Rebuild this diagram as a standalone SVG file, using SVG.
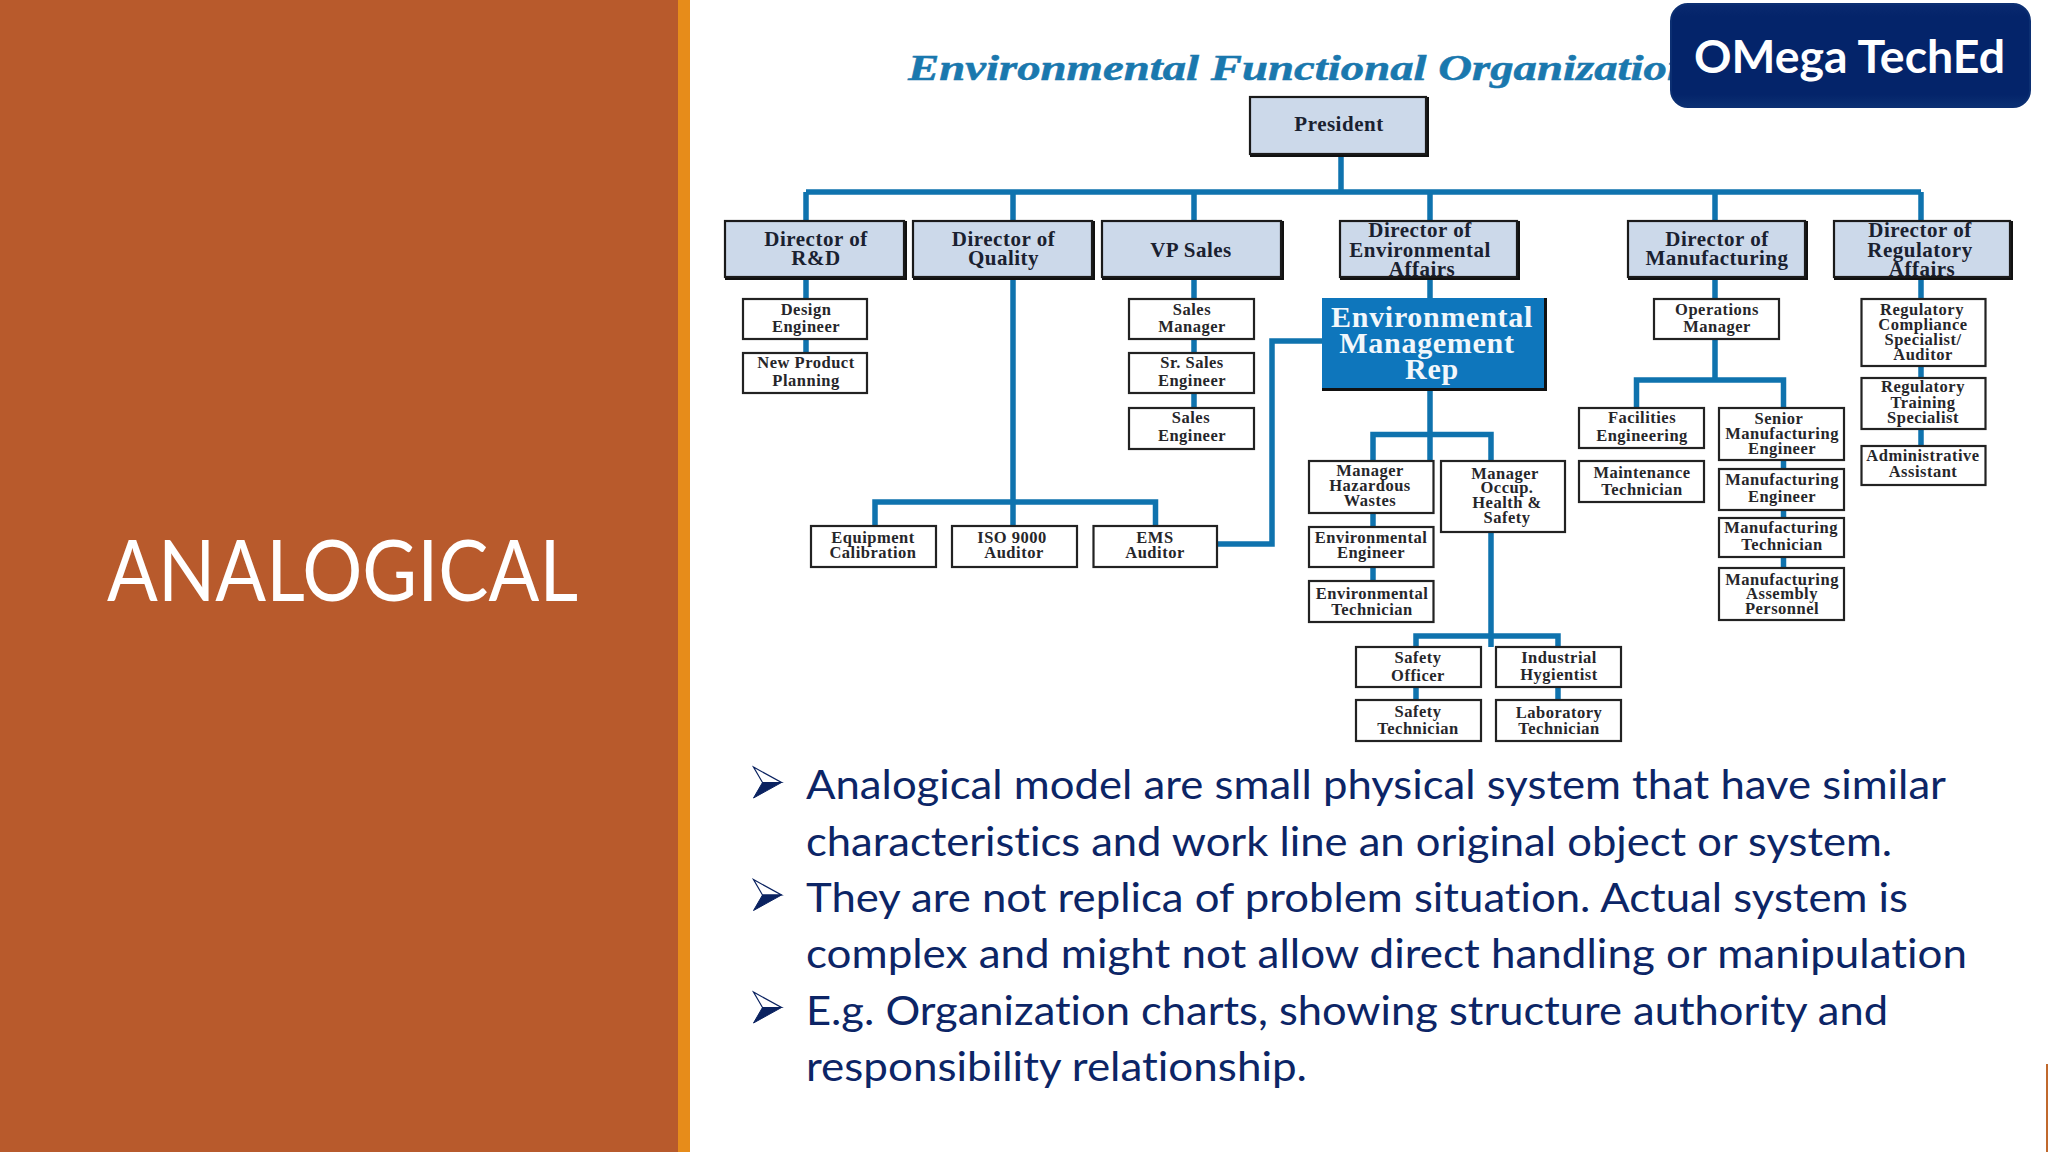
<svg xmlns="http://www.w3.org/2000/svg" width="2048" height="1152" viewBox="0 0 2048 1152">
<defs>
<linearGradient id="badgeFill" x1="0" y1="0" x2="0" y2="1"><stop offset="0" stop-color="#0a2a70"/><stop offset="0.12" stop-color="#04246a"/><stop offset="0.88" stop-color="#04246a"/><stop offset="1" stop-color="#0b3073"/></linearGradient>
<g id="bullet"><path d="M0 0L28 15.5L9 15.5Z" fill="#fff" stroke="#0a2260" stroke-width="1.2"/><path d="M0 31L28 15.5L9 15.5Z" fill="#0a2260" stroke="#0a2260" stroke-width="1"/></g>
</defs>
<style>
.box{fill:#fff;stroke:#222;stroke-width:2.2}
.dir{fill:#ccd9ea;stroke:#1a1a1a;stroke-width:2.2}
.shadow{fill:#111}
.t{font-family:"Liberation Serif",serif;font-weight:bold;font-size:16.500px;letter-spacing:0.500px;fill:#26262a;text-anchor:middle}
.d{font-family:"Liberation Serif",serif;font-weight:bold;font-size:21px;letter-spacing:0.500px;fill:#1a2130;text-anchor:middle}
.e{font-family:"Liberation Serif",serif;font-weight:bold;font-size:30px;letter-spacing:0.700px;fill:#f2f7fb;text-anchor:middle}
.b{font-family:Lato,"Open Sans",sans-serif;font-size:41px;fill:#0c2566;font-variant-ligatures:none}
.c path{fill:none;stroke:#0f73ae;stroke-width:5.500}
</style>
<rect x="0" y="0" width="2048" height="1152" fill="#fff"/>
<rect x="0" y="0" width="680" height="1152" fill="#b85a2c"/>
<rect x="678" y="0" width="12" height="1152" fill="#e78c1a"/>
<rect x="2046" y="1064" width="2" height="88" fill="#c0682c"/>
<text id="slide-title" x="107" y="601" font-family="Lato,'Open Sans',sans-serif" font-size="85" fill="#fff" textLength="471" lengthAdjust="spacingAndGlyphs">ANALOGICAL</text>
<text id="chart-title" x="908" y="80" font-family="'Liberation Serif',serif" font-weight="bold" font-style="italic" font-size="35" fill="#1a78ae" stroke="#1a78ae" stroke-width="0.500" textLength="785" lengthAdjust="spacingAndGlyphs">Environmental Functional Organization</text>

<g id="connectors" class="c">
<path d="M1341 155V192M806 192H1921M806 192V221M1013 192V221M1194 192V221M1430 192V221M1715 192V221M1921 192V221"/>
<path d="M806 278V299M806 339V353"/>
<path d="M1013 278V526M875 526V502H1155.500V526"/>
<path d="M1194 278V299M1194 339V353M1194 393V408"/>
<path d="M1430 278V298M1430 389V461M1373 461V434.500H1491V461"/>
<path d="M1217 544H1272V341H1322"/>
<path d="M1373 513V581"/>
<path d="M1491 532V647M1416 647V636H1558V647"/>
<path d="M1416 687V700M1558 687V700"/>
<path d="M1715 278V299M1715 339V380M1636.500 408V380H1783.500V408"/>
<path d="M1783.500 460V568"/>
<path d="M1921 278V299M1921 366V378M1921 429V446"/>
</g>

<g id="president"><rect class="shadow" x="1250" y="97" width="179" height="60"/><rect class="dir" x="1250" y="97" width="176" height="57"/><text class="d" x="1339" y="131">President</text></g>
<g id="dir-rd"><rect class="shadow" x="725" y="221" width="182" height="59"/><rect class="dir" x="725" y="221" width="179" height="56"/><text class="d" x="816" y="246">Director of</text><text class="d" x="816" y="265">R&amp;D</text></g>
<g id="dir-quality"><rect class="shadow" x="913" y="221" width="182" height="59"/><rect class="dir" x="913" y="221" width="179" height="56"/><text class="d" x="1003.500" y="246">Director of</text><text class="d" x="1003.500" y="265">Quality</text></g>
<g id="vp-sales"><rect class="shadow" x="1102" y="221" width="182" height="59"/><rect class="dir" x="1102" y="221" width="179" height="56"/><text class="d" x="1191" y="257">VP Sales</text></g>
<g id="dir-env"><rect class="shadow" x="1340" y="221" width="180" height="59"/><rect class="dir" x="1340" y="221" width="177" height="56"/><text class="d" x="1420" y="237">Director of</text><text class="d" x="1420" y="257">Environmental</text><text class="d" x="1422" y="276">Affairs</text></g>
<g id="dir-mfg"><rect class="shadow" x="1628" y="221" width="180" height="59"/><rect class="dir" x="1628" y="221" width="177" height="56"/><text class="d" x="1717" y="246">Director of</text><text class="d" x="1717" y="265">Manufacturing</text></g>
<g id="dir-reg"><rect class="shadow" x="1834" y="221" width="179" height="59"/><rect class="dir" x="1834" y="221" width="176" height="56"/><text class="d" x="1920" y="237">Director of</text><text class="d" x="1920" y="257">Regulatory</text><text class="d" x="1922" y="276">Affairs</text></g>

<g id="emr"><rect class="shadow" x="1322" y="298" width="225" height="93"/><rect x="1322" y="298" width="222" height="90" fill="#0e76bc"/><text class="e" x="1432" y="327">Environmental</text><text class="e" x="1427" y="353">Management</text><text class="e" x="1432" y="379">Rep</text></g>

<g id="design-engineer"><rect class="box" x="743" y="299" width="124" height="40"/><text class="t" x="806" y="315">Design</text><text class="t" x="806" y="332">Engineer</text></g>
<g id="new-product"><rect class="box" x="743" y="353" width="124" height="40"/><text class="t" x="806" y="368">New Product</text><text class="t" x="806" y="386">Planning</text></g>
<g id="sales-manager"><rect class="box" x="1129" y="299" width="125" height="40"/><text class="t" x="1192" y="315">Sales</text><text class="t" x="1192" y="332">Manager</text></g>
<g id="sr-sales"><rect class="box" x="1129" y="353" width="125" height="40"/><text class="t" x="1192" y="368">Sr. Sales</text><text class="t" x="1192" y="386">Engineer</text></g>
<g id="sales-engineer"><rect class="box" x="1129" y="408" width="125" height="41"/><text class="t" x="1191" y="423">Sales</text><text class="t" x="1192" y="441">Engineer</text></g>
<g id="equipment"><rect class="box" x="811" y="526" width="125" height="41"/><text class="t" x="873" y="543">Equipment</text><text class="t" x="873" y="558">Calibration</text></g>
<g id="iso"><rect class="box" x="952" y="526" width="125" height="41"/><text class="t" x="1012" y="543">ISO 9000</text><text class="t" x="1014" y="558">Auditor</text></g>
<g id="ems"><rect class="box" x="1093.500" y="526" width="123.500" height="41"/><text class="t" x="1155" y="543">EMS</text><text class="t" x="1155" y="558">Auditor</text></g>
<g id="mgr-haz"><rect class="box" x="1309" y="461" width="124.500" height="52"/><text class="t" x="1370" y="476">Manager</text><text class="t" x="1370" y="491">Hazardous</text><text class="t" x="1370" y="506">Wastes</text></g>
<g id="env-eng"><rect class="box" x="1309" y="527" width="124.500" height="40"/><text class="t" x="1371" y="543">Environmental</text><text class="t" x="1371" y="558">Engineer</text></g>
<g id="env-tech"><rect class="box" x="1309" y="581" width="124.500" height="41"/><text class="t" x="1372" y="599">Environmental</text><text class="t" x="1372" y="615">Technician</text></g>
<g id="mgr-occ"><rect class="box" x="1441" y="461" width="124" height="71"/><text class="t" x="1505" y="479">Manager</text><text class="t" x="1507" y="493">Occup.</text><text class="t" x="1507" y="508">Health &amp;</text><text class="t" x="1507" y="523">Safety</text></g>
<g id="safety-officer"><rect class="box" x="1356" y="647" width="125" height="40"/><text class="t" x="1418" y="663">Safety</text><text class="t" x="1418" y="681">Officer</text></g>
<g id="safety-tech"><rect class="box" x="1356" y="700" width="125" height="41"/><text class="t" x="1418" y="717">Safety</text><text class="t" x="1418" y="734">Technician</text></g>
<g id="industrial"><rect class="box" x="1496" y="647" width="125" height="40"/><text class="t" x="1559" y="663">Industrial</text><text class="t" x="1559" y="680">Hygientist</text></g>
<g id="laboratory"><rect class="box" x="1496" y="700" width="125" height="41"/><text class="t" x="1559" y="718">Laboratory</text><text class="t" x="1559" y="734">Technician</text></g>
<g id="operations"><rect class="box" x="1654" y="299" width="125" height="40"/><text class="t" x="1717" y="315">Operations</text><text class="t" x="1717" y="332">Manager</text></g>
<g id="facilities"><rect class="box" x="1579" y="408" width="125" height="40"/><text class="t" x="1642" y="423">Facilities</text><text class="t" x="1642" y="441">Engineering</text></g>
<g id="maintenance"><rect class="box" x="1579" y="461" width="125" height="41"/><text class="t" x="1642" y="478">Maintenance</text><text class="t" x="1642" y="495">Technician</text></g>
<g id="senior-mfg"><rect class="box" x="1719" y="408" width="125" height="52"/><text class="t" x="1779" y="424">Senior</text><text class="t" x="1782" y="439">Manufacturing</text><text class="t" x="1782" y="454">Engineer</text></g>
<g id="mfg-eng"><rect class="box" x="1719" y="469" width="125" height="41"/><text class="t" x="1782" y="485">Manufacturing</text><text class="t" x="1782" y="502">Engineer</text></g>
<g id="mfg-tech"><rect class="box" x="1719" y="518" width="125" height="39"/><text class="t" x="1781" y="533">Manufacturing</text><text class="t" x="1782" y="550">Technician</text></g>
<g id="mfg-assembly"><rect class="box" x="1719" y="568" width="125" height="52"/><text class="t" x="1782" y="585">Manufacturing</text><text class="t" x="1782" y="599">Assembly</text><text class="t" x="1782" y="614">Personnel</text></g>
<g id="reg-compliance"><rect class="box" x="1861.500" y="299" width="124" height="67"/><text class="t" x="1922" y="315">Regulatory</text><text class="t" x="1923" y="330">Compliance</text><text class="t" x="1923" y="345">Specialist/</text><text class="t" x="1923" y="360">Auditor</text></g>
<g id="reg-training"><rect class="box" x="1861.500" y="378" width="124" height="51"/><text class="t" x="1923" y="392">Regulatory</text><text class="t" x="1923" y="408">Training</text><text class="t" x="1923" y="423">Specialist</text></g>
<g id="admin"><rect class="box" x="1861.500" y="446" width="124" height="39"/><text class="t" x="1923" y="461">Administrative</text><text class="t" x="1923" y="477">Assistant</text></g>

<g id="badge"><rect x="1671" y="4" width="359" height="103" rx="17" fill="url(#badgeFill)" stroke="#0c2f72" stroke-width="2"/><text x="1694" y="73" font-family="Lato,'Open Sans',sans-serif" font-weight="bold" font-size="45" fill="#fff" textLength="311" lengthAdjust="spacingAndGlyphs">OMega TechEd</text></g>

<g id="bullets">
<use href="#bullet" x="753.500" y="767"/><use href="#bullet" x="753.500" y="879.500"/><use href="#bullet" x="753.500" y="992"/>
<text class="b" x="806" y="799" textLength="1140" lengthAdjust="spacingAndGlyphs">Analogical model are small physical system that have similar</text>
<text class="b" x="806" y="855.500" textLength="1086" lengthAdjust="spacingAndGlyphs">characteristics and work line an original object or system.</text>
<text class="b" x="806" y="912" textLength="1102" lengthAdjust="spacingAndGlyphs">They are not replica of problem situation. Actual system is</text>
<text class="b" x="806" y="968" textLength="1161" lengthAdjust="spacingAndGlyphs">complex and might not allow direct handling or manipulation</text>
<text class="b" x="806" y="1024.500" textLength="1082" lengthAdjust="spacingAndGlyphs">E.g. Organization charts, showing structure authority and</text>
<text class="b" x="806" y="1081" textLength="501" lengthAdjust="spacingAndGlyphs">responsibility relationship.</text>
</g>
</svg>
